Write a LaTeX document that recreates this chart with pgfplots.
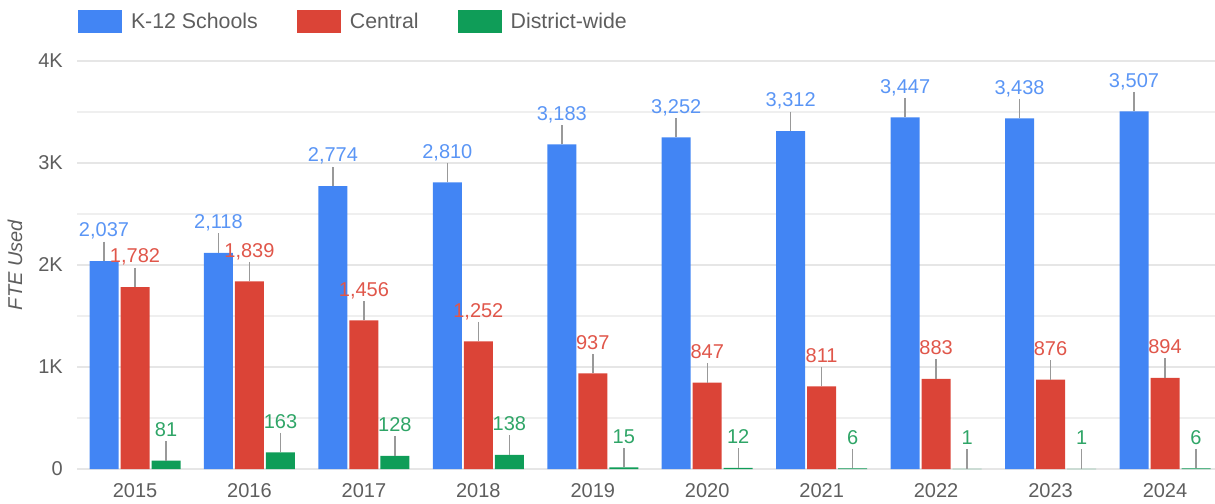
\documentclass[border=0pt]{standalone}
\usepackage{fontspec}
\setmainfont{Liberation Sans}
\usepackage{pgfplots}
\usepackage{pgfplotstable}
\pgfplotsset{compat=1.18}
\definecolor{cblue}{HTML}{4285F4}
\definecolor{cred}{HTML}{DB4437}
\definecolor{cgreen}{HTML}{0F9D58}
\definecolor{lblue}{HTML}{5A95F5}
\definecolor{lred}{HTML}{E0564A}
\definecolor{lgreen}{HTML}{2FA567}
\definecolor{gridmaj}{HTML}{E6E6E6}
\definecolor{gridmin}{HTML}{EFEFEF}
\definecolor{axisc}{HTML}{5F5F5F}
\definecolor{stemc}{HTML}{999999}
\definecolor{ticktext}{HTML}{5E5E5E}
\pgfplotstableread{
x K C D e
0 2037 1782 81 191
1 2118 1839 163 191
2 2774 1456 128 191
3 2810 1252 138 191
4 3183 937 15 191
5 3252 847 12 191
6 3312 811 6 191
7 3447 883 1 191
8 3438 876 1 191
9 3507 894 6 191
}\datatable
\begin{document}
\begin{tikzpicture}
\path[use as bounding box] (0,0) rectangle (911.25bp,378bp);
\begin{axis}[
  at={(57.75bp,26.25bp)}, anchor=south west,
  width=853.5bp, height=306bp, scale only axis,
  xmin=-0.507, xmax=9.437, ymin=0, ymax=4000,
  clip=false,
  ybar, bar width=0.2534,
  xtick={0,1,2,3,4,5,6,7,8,9},
  xticklabels={2015,2016,2017,2018,2019,2020,2021,2022,2023,2024},
  ytick={0,1000,2000,3000,4000}, yticklabels={0,1K,2K,3K,4K},
  minor ytick={500,1500,2500,3500},
  ymajorgrids, yminorgrids,
  major grid style={draw=gridmaj, line width=1.1bp},
  minor grid style={draw=gridmin, line width=1.1bp},
  major tick length=0pt, minor tick length=0pt,
  axis line style={draw=none},
  extra y ticks={0}, extra y tick labels={},
  extra y tick style={grid style={draw=axisc, line width=1.1bp}},
  /pgf/number format/assume math mode=true,
  tick label style={font=\fontsize{15bp}{18bp}\selectfont, text=ticktext, inner sep=0pt},
  xticklabel style={anchor=base, yshift=-21bp},
  yticklabel style={anchor=east, xshift=-10.5bp},
  ylabel={\itshape FTE Used},
  ylabel style={at={(rel axis cs:-0.0545,0.5)}, anchor=center, font=\fontsize{15bp}{18bp}\selectfont, text=ticktext},
  legend columns=3,
  legend image code/.code={\fill[#1] (0bp,-8.625bp) rectangle (33bp,8.625bp);},
  legend style={at={(rel axis cs:0.00088,1.0956)}, anchor=west, draw=none, fill=none,
    inner sep=0pt, outer sep=0pt, font=\fontsize{16bp}{19bp}\selectfont, text=ticktext,
    nodes={inner sep=0pt},
    /tikz/every odd column/.append style={column sep=6.75bp},
    /tikz/every even column/.append style={column sep=29.25bp}},
  nodes near coords={\pgfmathprintnumber[assume math mode=true,1000 sep={,},fixed,precision=0]{\pgfplotspointmeta}},
  every node near coord/.append style={font=\fontsize{15bp}{18bp}\selectfont, anchor=south, inner sep=0pt, text depth=0pt, yshift=18bp},
]
\addplot[fill=cblue, draw=none, bar shift=-0.2709,
  every node near coord/.append style={text=lblue},
  error bars/.cd, y dir=plus, y explicit, error bar style={draw=stemc, line width=1.1bp}, error mark=none]
  table[x=x, y=K, y error=e] {\datatable};
\addlegendentry{K-12 Schools}
\addplot[fill=cred, draw=none, bar shift=0,
  every node near coord/.append style={text=lred},
  error bars/.cd, y dir=plus, y explicit, error bar style={draw=stemc, line width=1.1bp}, error mark=none]
  table[x=x, y=C, y error=e] {\datatable};
\addlegendentry{Central}
\addplot[fill=cgreen, draw=none, bar shift=0.2709,
  every node near coord/.append style={text=lgreen},
  error bars/.cd, y dir=plus, y explicit, error bar style={draw=stemc, line width=1.1bp}, error mark=none]
  table[x=x, y=D, y error=e] {\datatable};
\addlegendentry{District-wide}
\end{axis}
\end{tikzpicture}
\end{document}
